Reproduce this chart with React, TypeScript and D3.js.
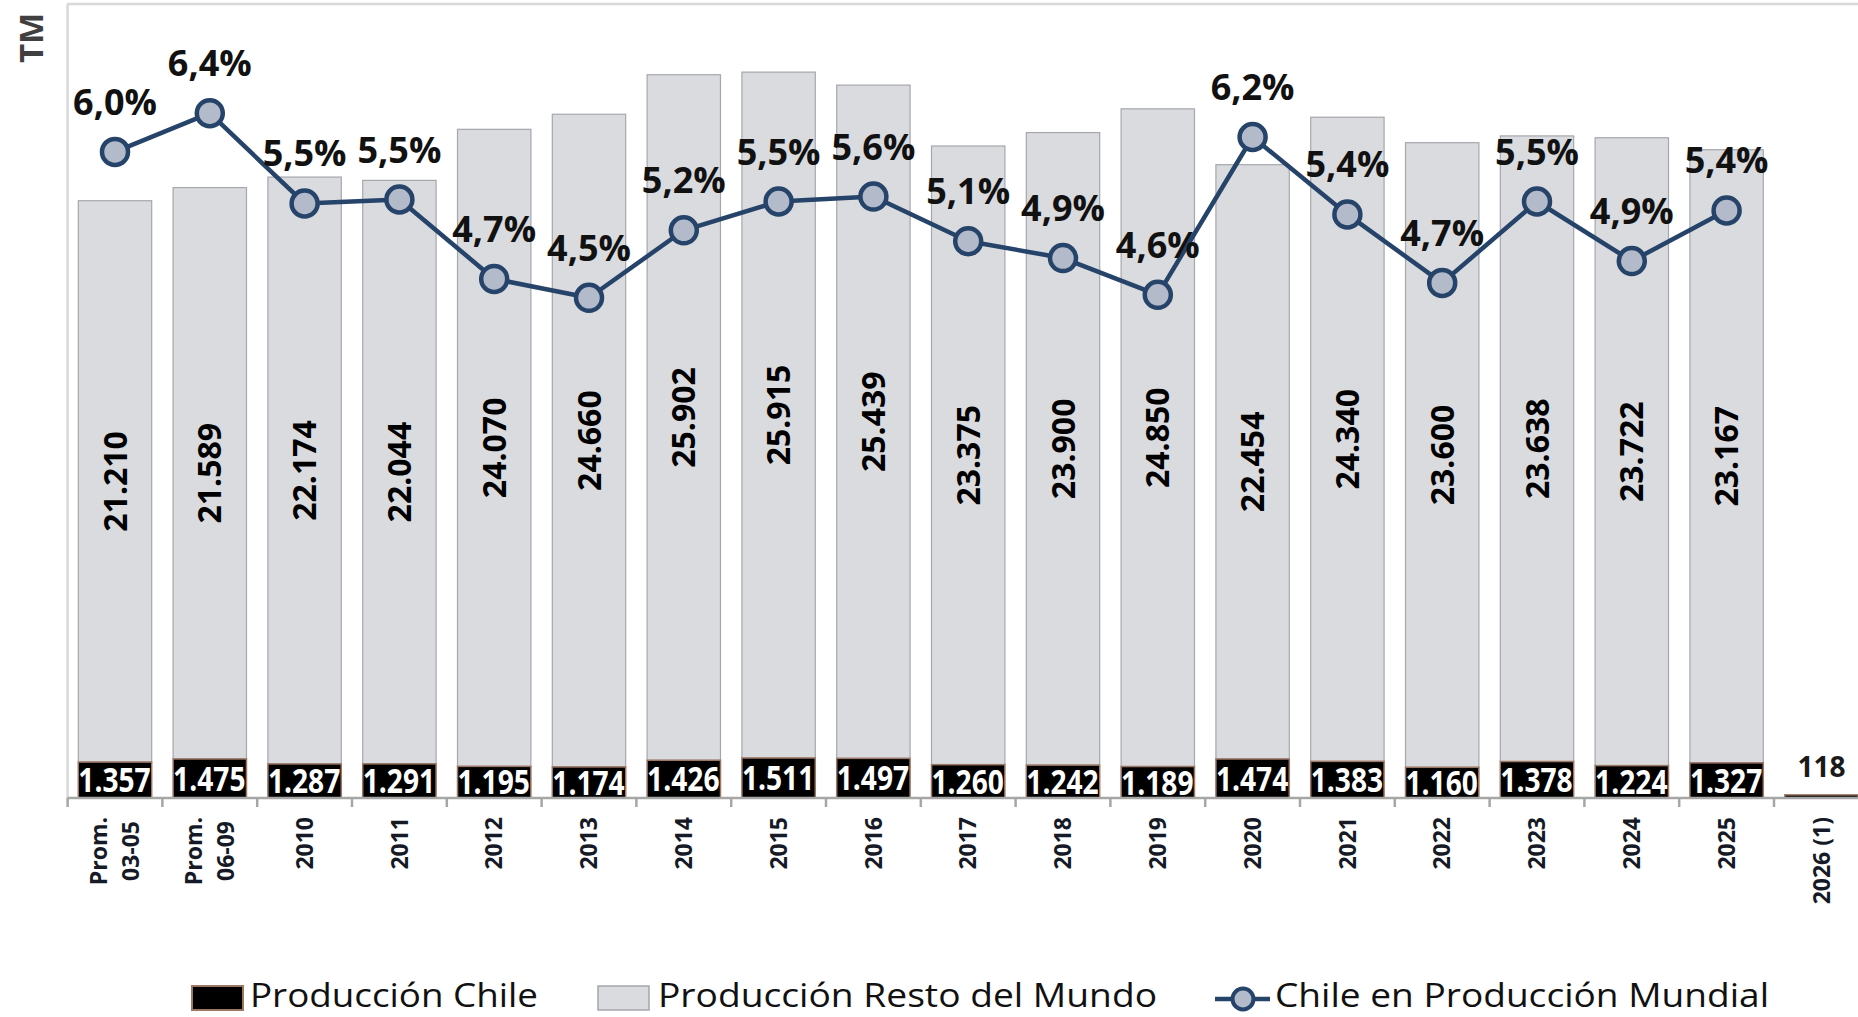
import React from "react";
import * as d3 from "d3";

const categories: string[] = [
  "Prom.|03-05", "Prom.|06-09", "2010", "2011", "2012", "2013", "2014", "2015", "2016",
  "2017", "2018", "2019", "2020", "2021", "2022", "2023", "2024", "2025", "2026 (1)",
];
const chileProduction: number[] = [
  1357, 1475, 1287, 1291, 1195, 1174, 1426, 1511, 1497, 1260, 1242, 1189, 1474, 1383, 1160, 1378, 1224, 1327, 118,
];
const restProduction: (number | null)[] = [
  21210, 21589, 22174, 22044, 24070, 24660, 25902, 25915, 25439, 23375, 23900, 24850, 22454, 24340, 23600, 23638, 23722, 23167, null,
];
const chileShare: (number | null)[] = [
  6.01, 6.40, 5.49, 5.53, 4.73, 4.54, 5.22, 5.51, 5.56, 5.11, 4.94, 4.57, 6.16, 5.38, 4.69, 5.51, 4.91, 5.42, null,
];
const legendLabels: string[] = ["Producción Chile", "Producción Resto del Mundo", "Chile en Producción Mundial"];
const yAxisTitle = "TM";

const W = 1858;
const H = 1017;
const FONT = "'Open Sans', 'Noto Sans', sans-serif";

const fmtThousands = (v: number) => {
  const s = Math.round(v).toString();
  return s.replace(/\B(?=(\d{3})+(?!\d))/g, ".");
};
const fmtPct = (v: number) => v.toFixed(1).replace(".", ",") + "%";

export default function App() {
  const left = 67.6;
  const step = 94.8;
  const x = d3
    .scaleBand<string>()
    .domain(categories)
    .range([left, left + step * categories.length])
    .paddingInner(0.226)
    .paddingOuter(0.113);
  const y = d3.scaleLinear().domain([0, 30000]).range([798, 4]);
  const yp = d3.scaleLinear().domain([-0.5, 7.5]).range([798, 4]);
  const bw = x.bandwidth();
  const cx = (c: string) => (x(c) as number) + bw / 2;

  const linePts = categories
    .map((c, i) => ({ c, v: chileShare[i] }))
    .filter((d) => d.v != null) as { c: string; v: number }[];
  const line = d3
    .line<{ c: string; v: number }>()
    .x((d) => cx(d.c))
    .y((d) => yp(d.v));

  const navy = "#26436a";
  const markerFill = "#b3bac9";
  const grayFill = "#dadbdf";
  const grayStroke = "#a5a7ac";
  const brown = "#9c7765";
  const labelDark = "#151a26";

  return (
    <svg
      width={W}
      height={H}
      style={{ position: "absolute", left: 0, top: 0, background: "#fff" }}
      fontFamily={FONT}
    >
      {/* plot area border (left + top) */}
      <line x1={67} x2={W} y1={4} y2={4} stroke="#d9d9d9" strokeWidth={2.5} />
      <line x1={67.6} x2={67.6} y1={4} y2={798} stroke="#d9d9d9" strokeWidth={2.5} />

      {/* y axis title */}
      <text
        transform={`translate(43,38) rotate(-90)`}
        textAnchor="middle"
        fontSize={33}
        fontWeight={700}
        fill="#404040"
      >
        {yAxisTitle}
      </text>

      {/* bars */}
      {categories.map((c, i) => {
        const ch = chileProduction[i];
        const rest = restProduction[i];
        const x0 = x(c) as number;
        return (
          <g key={c}>
            {rest != null && (
              <rect
                x={x0}
                y={y(ch + rest)}
                width={bw}
                height={y(ch) - y(ch + rest)}
                fill={grayFill}
                stroke={grayStroke}
                strokeWidth={1.2}
              />
            )}
            <rect
              x={x0}
              y={y(ch)}
              width={bw}
              height={y(0) - y(ch)}
              fill="#000"
              stroke={brown}
              strokeWidth={1.5}
            />
          </g>
        );
      })}

      {/* x axis */}
      <line x1={left} x2={W} y1={798} y2={798} stroke="#a6a6a6" strokeWidth={2.5} />
      {d3.range(categories.length + 1).map((k) => {
        const tx = k < categories.length ? (x(categories[k]) as number) - (step - bw) / 2 : left + step * k;
        return <line key={k} x1={tx} x2={tx} y1={798} y2={807} stroke="#a6a6a6" strokeWidth={2.5} />;
      })}

      {/* rest-of-world labels */}
      {categories.map((c, i) => {
        const ch = chileProduction[i];
        const rest = restProduction[i];
        if (rest == null) return null;
        const my = (y(ch) + y(ch + rest)) / 2;
        return (
          <text
            key={"r" + c}
            transform={`translate(${cx(c)},${my}) rotate(-90)`}
            textAnchor="middle"
            dy="0.36em"
            fontSize={32}
            fontWeight={700}
            fill="#000"
          >
            {fmtThousands(rest)}
          </text>
        );
      })}

      {/* chile labels */}
      {categories.map((c, i) => {
        const ch = chileProduction[i];
        const rest = restProduction[i];
        if (rest == null) {
          return (
            <text
              key={"c" + c}
              x={cx(c)}
              y={777}
              textAnchor="middle"
              fontSize={28}
              fontWeight={700}
              fill="#1a1a1a"
            >
              {fmtThousands(ch)}
            </text>
          );
        }
        const my = (y(0) + y(ch)) / 2;
        return (
          <text
            key={"c" + c}
            x={x(c) as number}
            y={my}
            dy="0.36em"
            fontSize={34}
            fontWeight={700}
            fill="#fff"
            textLength={bw - 1}
            lengthAdjust="spacingAndGlyphs"
          >
            {fmtThousands(ch)}
          </text>
        );
      })}

      {/* share line */}
      <path d={line(linePts) || ""} fill="none" stroke={navy} strokeWidth={4.5} strokeLinejoin="round" />
      {linePts.map((d) => (
        <circle key={"m" + d.c} cx={cx(d.c)} cy={yp(d.v)} r={13} fill={markerFill} stroke={navy} strokeWidth={4.5} />
      ))}
      {linePts.map((d) => (
        <text
          key={"p" + d.c}
          x={cx(d.c)}
          y={yp(d.v) - 37}
          textAnchor="middle"
          fontSize={36}
          fontWeight={700}
          fill="#111"
        >
          {fmtPct(d.v)}
        </text>
      ))}

      {/* x axis labels */}
      {categories.map((c) => {
        const lines = c.split("|");
        if (lines.length === 1) {
          return (
            <text
              key={"x" + c}
              transform={`translate(${cx(c)},817) rotate(-90)`}
              textAnchor="end"
              dy="0.36em"
              fontSize={23}
              fontWeight={700}
              fill={labelDark}
            >
              {c}
            </text>
          );
        }
        return (
          <g key={"x" + c}>
            {lines.map((ln, j) => (
              <text
                key={j}
                transform={`translate(${cx(c) + (j - (lines.length - 1) / 2) * 32},851) rotate(-90)`}
                textAnchor="middle"
                dy="0.36em"
                fontSize={23}
                fontWeight={700}
                fill={labelDark}
              >
                {ln}
              </text>
            ))}
          </g>
        );
      })}

      {/* legend */}
      <g fontSize={33} fill="#111">
        <rect x={192} y={986} width={51} height={24} fill="#000" stroke={brown} strokeWidth={2} />
        <text x={250} y={1007} textLength={288} lengthAdjust="spacingAndGlyphs">{legendLabels[0]}</text>
        <rect x={598} y={986} width={51} height={24} fill={grayFill} stroke={grayStroke} strokeWidth={1.5} />
        <text x={658} y={1007} textLength={499} lengthAdjust="spacingAndGlyphs">{legendLabels[1]}</text>
        <line x1={1215} x2={1270} y1={999} y2={999} stroke={navy} strokeWidth={4.5} />
        <circle cx={1243} cy={999} r={10.5} fill={markerFill} stroke={navy} strokeWidth={4} />
        <text x={1275} y={1007} textLength={494} lengthAdjust="spacingAndGlyphs">{legendLabels[2]}</text>
      </g>
    </svg>
  );
}
